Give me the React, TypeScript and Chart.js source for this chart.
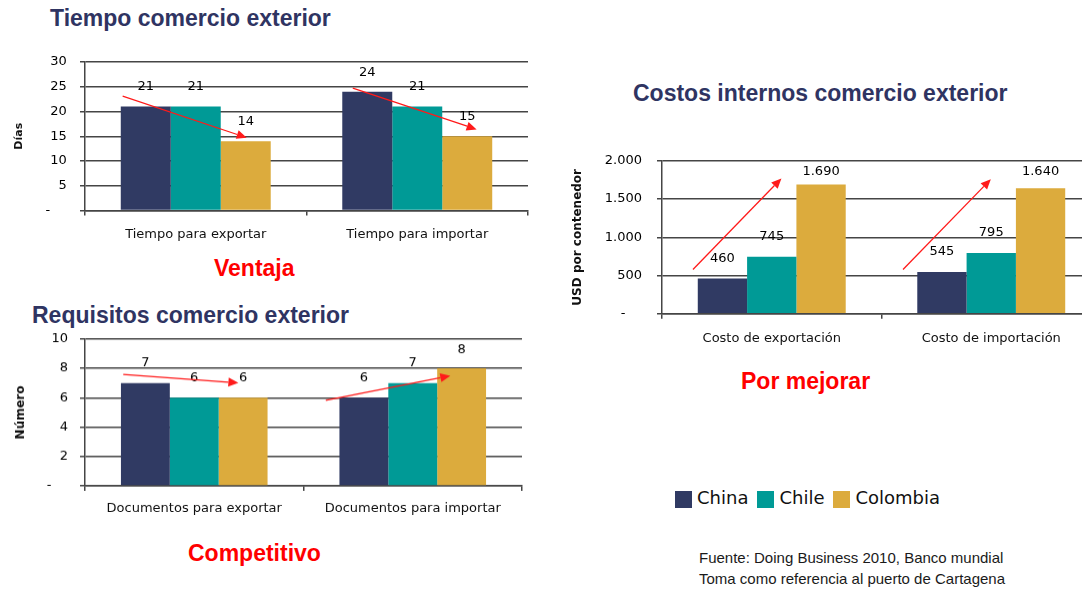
import React, { useEffect, useRef } from 'react';
import { Chart, registerables } from 'chart.js';

Chart.register(...registerables);

// ---------- data ----------
const seriesNames = ['China', 'Chile', 'Colombia'];
const seriesColors = ['#303a63', '#009a96', '#dcab3d'];

const tiempoCategories = ['Tiempo para exportar', 'Tiempo para importar'];
const tiempoChina = [21, 24];
const tiempoChile = [21, 21];
const tiempoColombia = [14, 15];
const tiempoAxis = [0, 30, 5]; // min, max, step
// trend arrows: [fromCategoryIndex, fromValue, toCategoryIndex, toValue]
const tiempoArrows = [
  [-0.33, 23.12, 0.23, 14.71],
  [0.709, 24.74, 1.268, 16.39],
];

const requisitosCategories = ['Documentos para exportar', 'Documentos para importar'];
const requisitosChina = [7, 6];
const requisitosChile = [6, 7];
const requisitosColombia = [6, 8];
const requisitosAxis = [0, 10, 2];
const requisitosArrows = [
  [-0.325, 7.59, 0.202, 7.01],
  [0.602, 5.83, 1.172, 7.49],
];

const costosCategories = ['Costo de exportación', 'Costo de importación'];
const costosChina = [460, 545];
const costosChile = [745, 795];
const costosColombia = [1690, 1640];
const costosAxis = [0, 2000, 500];
const costosArrows = [
  [-0.359, 580, 0.044, 1770],
  [0.598, 580, 0.998, 1759],
];

const sourceLines = [
  'Fuente: Doing Business 2010, Banco mundial',
  'Toma como referencia al puerto de Cartagena',
];

// ---------- helpers ----------
const fmt = (v: number) => String(v).replace(/\B(?=(\d{3})+(?!\d))/g, '.');
const GRID = '#454545';
const TICK_FONT = 13;

function valueLabels() {
  return {
    id: 'valueLabels',
    afterDatasetsDraw(chart: any) {
      const { ctx, chartArea } = chart;
      ctx.save();
      ctx.font = '13px "DejaVu Sans"';
      ctx.fillStyle = '#000';
      ctx.textAlign = 'center';
      ctx.textBaseline = 'middle';
      chart.data.datasets.forEach((ds: any, i: number) => {
        const meta = chart.getDatasetMeta(i);
        meta.data.forEach((bar: any, j: number) => {
          const y = Math.max(bar.y - 20, chartArea.top + 11);
          ctx.fillText(fmt(ds.data[j]), bar.x, y);
        });
      });
      ctx.restore();
    },
  };
}

function trendArrows(arrows: number[][]) {
  return {
    id: 'trendArrows',
    afterDatasetsDraw(chart: any) {
      const { ctx } = chart;
      const xs = chart.scales.x;
      const ys = chart.scales.y;
      ctx.save();
      ctx.strokeStyle = '#ff1a1a';
      ctx.fillStyle = '#ff1a1a';
      ctx.lineWidth = 1.3;
      arrows.forEach(([c0, v0, c1, v1]) => {
        const x0 = xs.getPixelForValue(c0);
        const y0 = ys.getPixelForValue(v0);
        const x1 = xs.getPixelForValue(c1);
        const y1 = ys.getPixelForValue(v1);
        const ang = Math.atan2(y1 - y0, x1 - x0);
        const len = 10;
        const hw = 4.5;
        const bx = x1 - len * Math.cos(ang);
        const by = y1 - len * Math.sin(ang);
        ctx.beginPath();
        ctx.moveTo(x0, y0);
        ctx.lineTo(bx, by);
        ctx.stroke();
        ctx.beginPath();
        ctx.moveTo(x1, y1);
        ctx.lineTo(bx + hw * Math.sin(ang), by - hw * Math.cos(ang));
        ctx.lineTo(bx - hw * Math.sin(ang), by + hw * Math.cos(ang));
        ctx.closePath();
        ctx.fill();
      });
      ctx.restore();
    },
  };
}

type PanelProps = {
  left: number;
  width: number;
  plotTop: number;
  plotBottom: number;
  categories: string[];
  values: number[][];
  axis: number[];
  arrows: number[][];
  yTitle: string;
  yTitleSize: number;
  yTitlePad: number;
  yWidth: number;
  xHeight: number;
  catPct: number;
  yTickPad: number;
  xTickPad: number;
};

function BarPanel(p: PanelProps) {
  const ref = useRef<HTMLCanvasElement | null>(null);
  // chart.js reserves half a tick label + tick padding above the plot area
  const topReserve = (TICK_FONT * 1.2) / 2 + p.yTickPad;
  const canvasTop = p.plotTop - topReserve;
  const canvasHeight = p.plotBottom - canvasTop + p.xHeight;
  useEffect(() => {
    if (!ref.current) return;
    const chart = new Chart(ref.current, {
      type: 'bar',
      data: {
        labels: p.categories,
        datasets: p.values.map((vals, i) => ({
          label: seriesNames[i],
          data: vals,
          backgroundColor: seriesColors[i],
          borderWidth: 0,
          barPercentage: 1,
          categoryPercentage: p.catPct,
        })),
      },
      options: {
        animation: false,
        responsive: true,
        maintainAspectRatio: false,
        layout: { padding: { top: 0, right: 4, left: 0, bottom: 0 } },
        plugins: {
          legend: { display: false },
          tooltip: { enabled: false },
        },
        scales: {
          x: {
            offset: true,
            afterFit: (s: any) => {
              s.height = p.xHeight;
            },
            grid: {
              offset: true,
              drawOnChartArea: false,
              drawTicks: true,
              tickLength: 5,
              color: GRID,
              lineWidth: 1.5,
            },
            border: { display: true, color: GRID, width: 1.5 },
            ticks: {
              color: '#111',
              font: { family: 'DejaVu Sans', size: 13 },
              padding: p.xTickPad,
              maxRotation: 0,
              autoSkip: false,
            },
          },
          y: {
            min: p.axis[0],
            max: p.axis[1],
            afterFit: (s: any) => {
              s.width = p.yWidth;
            },
            grid: { color: GRID, lineWidth: 1.5, tickLength: 5 },
            border: { display: true, color: GRID, width: 1.5 },
            ticks: {
              stepSize: p.axis[2],
              color: '#000',
              font: { family: 'DejaVu Sans', size: TICK_FONT },
              padding: p.yTickPad,
              callback: (v: any) => (Number(v) === 0 ? '-    ' : fmt(Number(v))),
            },
            title: {
              display: true,
              text: p.yTitle,
              color: '#111',
              font: { family: 'DejaVu Sans', size: p.yTitleSize, weight: 'bold' },
              padding: { top: p.yTitlePad, bottom: 0 },
            },
          },
        },
      },
      plugins: [valueLabels(), trendArrows(p.arrows)],
    } as any);
    return () => chart.destroy();
  }, []);
  return (
    <div
      style={{
        position: 'absolute',
        left: p.left,
        top: canvasTop,
        width: p.width,
        height: canvasHeight,
      }}
    >
      <canvas ref={ref} />
    </div>
  );
}

const titleStyle = (left: number, top: number): React.CSSProperties => ({
  position: 'absolute',
  left,
  top,
  font: '700 23px "Liberation Sans", Arial, sans-serif',
  lineHeight: '23px',
  color: '#2f3462',
  whiteSpace: 'nowrap',
});

const redStyle = (left: number, top: number): React.CSSProperties => ({
  position: 'absolute',
  left,
  top,
  font: '700 23px "Liberation Sans", Arial, sans-serif',
  lineHeight: '23px',
  color: '#ff0000',
  whiteSpace: 'nowrap',
});

export default function App() {
  return (
    <div
      style={{
        position: 'fixed',
        left: 0,
        top: 0,
        width: 1082,
        height: 589,
        overflow: 'hidden',
        background: '#fff',
      }}
    >
      <div style={titleStyle(50, 7)}>Tiempo comercio exterior</div>
      <BarPanel
        left={0}
        width={532}
        plotTop={61.7}
        plotBottom={210}
        categories={tiempoCategories}
        values={[tiempoChina, tiempoChile, tiempoColombia]}
        axis={tiempoAxis}
        arrows={tiempoArrows}
        yTitle="Días"
        yTitleSize={11}
        yTitlePad={12.4}
        yWidth={85}
        xHeight={35}
        catPct={0.677}
        yTickPad={13.3}
        xTickPad={11}
      />
      <div style={redStyle(214, 257)}>Ventaja</div>

      <div style={titleStyle(32, 304)}>Requisitos comercio exterior</div>
      <BarPanel
        left={0}
        width={526}
        plotTop={339}
        plotBottom={485.3}
        categories={requisitosCategories}
        values={[requisitosChina, requisitosChile, requisitosColombia]}
        axis={requisitosAxis}
        arrows={requisitosArrows}
        yTitle="Número"
        yTitleSize={12}
        yTitlePad={13.8}
        yWidth={85}
        xHeight={34.3}
        catPct={0.671}
        yTickPad={12}
        xTickPad={10}
      />
      <div style={redStyle(188, 542)}>Competitivo</div>

      <div style={titleStyle(633, 82)}>Costos internos comercio exterior</div>
      <BarPanel
        left={560}
        width={545}
        plotTop={160.7}
        plotBottom={313.7}
        categories={costosCategories}
        values={[costosChina, costosChile, costosColombia]}
        axis={costosAxis}
        arrows={costosArrows}
        yTitle="USD por contenedor"
        yTitleSize={12}
        yTitlePad={11.1}
        yWidth={102}
        xHeight={31.3}
        catPct={0.674}
        yTickPad={15}
        xTickPad={12}
      />
      <div style={redStyle(741, 370)}>Por mejorar</div>

      <div
        style={{
          position: 'absolute',
          left: 675,
          top: 490,
          display: 'flex',
          alignItems: 'center',
          gap: 9,
        }}
      >
        {seriesNames.map((n, i) => (
          <div key={n} style={{ display: 'flex', alignItems: 'center', gap: 5 }}>
            <div style={{ width: 17, height: 17, background: seriesColors[i] }} />
            <span
              style={{
                font: '18px "DejaVu Sans", sans-serif',
                lineHeight: '18px',
                color: '#111',
                position: 'relative',
                top: -1,
              }}
            >
              {n}
            </span>
          </div>
        ))}
      </div>

      <div
        style={{
          position: 'absolute',
          left: 699,
          top: 548,
          font: '15px "Liberation Sans", Arial, sans-serif',
          lineHeight: '20.5px',
          color: '#1a1a1a',
          whiteSpace: 'nowrap',
        }}
      >
        {sourceLines.map((l) => (
          <div key={l}>{l}</div>
        ))}
      </div>
    </div>
  );
}
